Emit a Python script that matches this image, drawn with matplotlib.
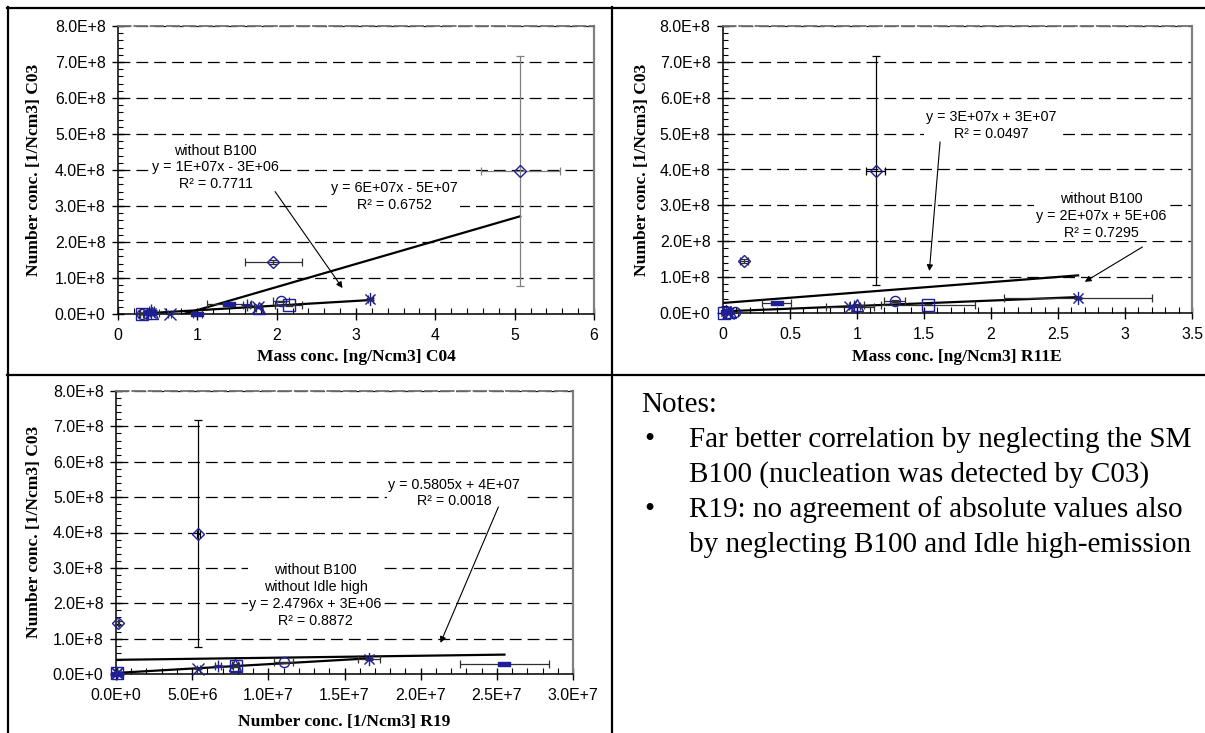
import numpy as np
import matplotlib
matplotlib.use("Agg")
import matplotlib.pyplot as plt
from matplotlib.path import Path
from matplotlib.lines import Line2D
from matplotlib.ticker import MultipleLocator, FuncFormatter

W, H = 1205, 733

# ---------------- data ----------------
# C03 number concentration [1/Ncm3] vs. C04 mass concentration [ng/Ncm3]
c04_series = ["B100", "B100", "P1", "P2", "P3", "P4", "P5", "P6", "Idle high",
              "Idle low", "P5", "P3", "P2", "P4", "P1", "P6", "Idle low"]
c04_x = [5.07, 1.96, 3.18, 2.05, 2.15, 1.78, 1.76, 1.62, 1.40,
         1.00, 0.65, 0.30, 0.30, 0.43, 0.42, 0.42, 0.40]
c04_xerr = [0.50, 0.36, 0.03, 0.10, 0.17, 0.04, 0.04, 0.05, 0.28,
            0.06, 0.02, 0.02, 0.03, 0.03, 0.04, 0.03, 0.12]
c04_y = [3.97e8, 1.45e8, 4.2e7, 3.5e7, 2.4e7, 1.8e7, 2.0e7, 2.4e7, 2.7e7,
         0.0, 0.0, 1.0e6, 1.0e6, 2.0e6, 3.0e6, 1.0e7, 3.0e6]
c04_yerr = [3.2e8, 6e6, 3e6, 2e6, 2e6, 2e6, 1e6, 2e6, 2e6,
            0, 0, 0, 0, 0, 0, 2e6, 0]

# C03 number concentration vs. R11E mass concentration [ng/Ncm3]
r11e_series = ["B100", "B100", "P1", "P2", "P3", "P4", "P5", "P6", "Idle high",
               "Idle low", "P3", "P2", "P4", "P5", "P1"]
r11e_x = [1.14, 0.16, 2.65, 1.28, 1.53, 1.00, 0.95, 0.98, 0.40,
          0.03, 0.01, 0.09, 0.05, 0.04, 0.02]
r11e_xerr = [0.07, 0.03, 0.55, 0.08, 0.35, 0.05, 0.18, 0.04, 0.11,
             0.02, 0.01, 0.02, 0.02, 0.02, 0.02]
r11e_y = [3.97e8, 1.45e8, 4.2e7, 3.3e7, 2.3e7, 2.2e7, 1.8e7, 2.0e7, 2.7e7,
          2.0e6, 1.0e6, 2.0e6, 2.0e6, 1.0e6, 5.0e6]
r11e_yerr = [3.2e8, 6e6, 3e6, 2e6, 2e6, 2e6, 1e6, 2e6, 2e6,
             0, 0, 0, 0, 0, 0]

# C03 number concentration vs. R19 number concentration [1/Ncm3]
r19_series = ["B100", "B100", "P1", "P2", "P3", "P4", "P5", "P6", "Idle high",
              "Idle low", "P3", "P5", "P1"]
r19_x = [5.4e6, 1.5e5, 1.66e7, 1.10e7, 7.9e6, 7.8e6, 5.4e6, 6.7e6, 2.55e7,
         5e4, 5e4, 5e4, 5e4]
r19_xerr = [1e5, 5e4, 7e5, 6e5, 2e5, 2e5, 1e5, 2e5, 2.9e6,
            0, 0, 0, 0]
r19_y = [3.97e8, 1.45e8, 4.2e7, 3.3e7, 2.3e7, 2.6e7, 1.5e7, 2.3e7, 2.7e7,
         1.0e6, 2.0e6, 3.0e6, 4.0e6]
r19_yerr = [3.2e8, 6e6, 3e6, 2e6, 2e6, 2e6, 1e6, 2e6, 2e6,
            0, 0, 0, 0]

# linear trend lines: (slope, intercept) and coefficient of determination
c04_fit_all, c04_r2_all = (6.4e7, -5.3e7), 0.6752
c04_fit_wo, c04_r2_wo = (1.3e7, -2.6e6), 0.7711
r11e_fit_all, r11e_r2_all = (2.9e7, 2.8e7), 0.0497
r11e_fit_wo, r11e_r2_wo = (1.5e7, 4.6e6), 0.7295
r19_fit_all, r19_r2_all = (0.5805, 4.0e7), 0.0018
r19_fit_wo, r19_r2_wo = (2.4796, 3.0e6), 0.8872

notes = [
    ("Far better correlation by neglecting the SM",
     "B100 (nucleation was detected by C03)"),
    ("R19: no agreement of absolute values also",
     "by neglecting B100 and Idle high-emission"),
]

# ---------------- styling ----------------
SANS = "Liberation Sans"
SERIF = "Liberation Serif"
BLUE = "#1e1e96"

M, L, C = Path.MOVETO, Path.LINETO, Path.CLOSEPOLY
star_path = Path([(-1, -1), (1, 1), (-1, 1), (1, -1), (0, -1.3), (0, 1.3)],
                 [M, L, M, L, M, L])
dash_path = Path([(-1, -0.4), (1, -0.4), (1, 0.4), (-1, 0.4), (-1, -0.4)],
                 [M, L, L, L, C])

marker_style = {
    "B100": dict(marker="D", ms=6.2, mfc="none"),
    "P1": dict(marker=star_path, ms=9.5, mfc="none"),
    "P2": dict(marker="o", ms=7.3, mfc="none"),
    "P3": dict(marker="s", ms=8.4, mfc="none"),
    "P4": dict(marker="^", ms=8.6, mfc="none"),
    "P5": dict(marker="x", ms=8.8, mfc="none"),
    "P6": dict(marker="+", ms=8.8, mfc="none"),
    "Idle high": dict(marker=dash_path, ms=8.6, mfc=BLUE),
    "Idle low": dict(marker=dash_path, ms=8.6, mfc=BLUE),
}

fig = plt.figure(figsize=(W / 100, H / 100), dpi=100)


def px_axes(l, t, r, b):
    return fig.add_axes([l / W, 1 - b / H, (r - l) / W, (b - t) / H])


def sci_label(v, _pos=None):
    if v == 0:
        return "0.0E+0"
    e = int(np.floor(np.log10(abs(v))))
    return f"{v / 10 ** e:.1f}E+{e}"


def coef(v):
    return f"{abs(v):.0E}" if abs(v) >= 1000 else f"{abs(v):.4f}"


def equation(fit):
    m, b = fit
    sign = "+" if b >= 0 else "-"
    return f"y = {coef(m)}x {sign} {coef(b)}"


def setup(ax, xmax, xmajor, xminor, xfmt):
    ax.set_xlim(0, xmax)
    ax.set_ylim(0, 8e8)
    ax.yaxis.set_major_locator(MultipleLocator(1e8))
    ax.yaxis.set_minor_locator(MultipleLocator(2e7))
    ax.xaxis.set_major_locator(MultipleLocator(xmajor))
    ax.xaxis.set_minor_locator(MultipleLocator(xminor))
    ax.yaxis.set_major_formatter(FuncFormatter(sci_label))
    ax.xaxis.set_major_formatter(FuncFormatter(xfmt))
    ax.grid(axis="y", which="major", color="black", lw=0.9,
            linestyle=(0, (9.5, 4.8)), zorder=0)
    ax.set_axisbelow(True)
    for s in ("left", "bottom"):
        ax.spines[s].set_color("black")
        ax.spines[s].set_linewidth(1.1)
    ax.spines["right"].set_color("#808080")
    ax.spines["right"].set_linewidth(1.6)
    ax.spines["top"].set_color("#707070")
    ax.spines["top"].set_linewidth(1.3)
    ax.spines["top"].set_linestyle((0, (7, 2)))
    ax.tick_params(axis="y", which="major", direction="inout", length=8,
                   width=1, pad=5, labelsize=11.4)
    ax.tick_params(axis="y", which="minor", direction="in", length=3.5,
                   width=0.8)
    ax.tick_params(axis="x", which="major", direction="inout", length=9,
                   width=1, pad=5.5, labelsize=11.4)
    ax.tick_params(axis="x", which="minor", direction="in", length=4,
                   width=0.8)
    for lab in ax.get_xticklabels() + ax.get_yticklabels():
        lab.set_family(SANS)


def draw_points(ax, series, xs, ys, xerr, yerr, big_err_color):
    for s, x, y, dx, dy in zip(series, xs, ys, xerr, yerr):
        ecol = big_err_color if dy > 1e8 else "#303030"
        ax.errorbar([x], [y], xerr=[dx], yerr=[dy], fmt="none", ecolor=ecol,
                    elinewidth=0.9, capsize=2.6, capthick=0.9, zorder=3,
                    clip_on=False)
    for s, x, y in zip(series, xs, ys):
        st = marker_style[s]
        ax.plot([x], [y], linestyle="none", marker=st["marker"],
                markersize=st["ms"], markerfacecolor=st["mfc"],
                markeredgecolor=BLUE, markeredgewidth=1.0, zorder=4,
                clip_on=False)


def trend(ax, fit, xs):
    m, b = fit
    xx = np.array([min(xs), max(xs)])
    ax.plot(xx, m * xx + b, color="black", lw=1.6, zorder=2)


def label(ax, x, y, text):
    ax.text(x, y, text, ha="center", va="center", family=SANS, fontsize=10.3,
            linespacing=1.25, zorder=5,
            bbox=dict(facecolor="white", edgecolor="none", pad=1.0))


def arrow(ax, start, end):
    ax.annotate("", xy=end, xytext=start, zorder=6,
                arrowprops=dict(arrowstyle="-|>", color="black", lw=0.8,
                                mutation_scale=9, shrinkA=0, shrinkB=0))


def subset(series, xs, drop):
    return [x for s, x in zip(series, xs) if s not in drop]


# ---------- panel 1: C04 ----------
ax1 = px_axes(118, 26, 594, 314)
setup(ax1, 6, 1, 0.2, lambda v, p: f"{v:g}")
trend(ax1, c04_fit_all, c04_x)
trend(ax1, c04_fit_wo, subset(c04_series, c04_x, {"B100"}))
draw_points(ax1, c04_series, c04_x, c04_y, c04_xerr, c04_yerr, "#808080")
label(ax1, 1.23, 4.07e8,
      f"without B100\n{equation(c04_fit_wo)}\nR² = {c04_r2_wo:.4f}")
label(ax1, 3.49, 3.27e8, f"{equation(c04_fit_all)}\nR² = {c04_r2_all:.4f}")
arrow(ax1, (1.98, 3.40e8), (2.83, 0.72e8))

# ---------- panel 2: R11E ----------
ax2 = px_axes(723, 26, 1192, 313)
setup(ax2, 3.5, 0.5, 0.1, lambda v, p: f"{v:g}")
trend(ax2, r11e_fit_all, r11e_x)
trend(ax2, r11e_fit_wo, subset(r11e_series, r11e_x, {"B100"}))
draw_points(ax2, r11e_series, r11e_x, r11e_y, r11e_xerr, r11e_yerr, "#000000")
label(ax2, 2.0, 5.22e8, f"{equation(r11e_fit_all)}\nR² = {r11e_r2_all:.4f}")
label(ax2, 2.82, 2.70e8,
      f"without B100\n{equation(r11e_fit_wo)}\nR² = {r11e_r2_wo:.4f}")
arrow(ax2, (1.62, 4.77e8), (1.54, 1.17e8))
arrow(ax2, (3.13, 1.84e8), (2.70, 0.87e8))

# ---------- panel 3: R19 ----------
ax3 = px_axes(116, 391, 573, 674)
setup(ax3, 3e7, 5e6, 1e6, sci_label)
trend(ax3, r19_fit_all, r19_x)
trend(ax3, r19_fit_wo, subset(r19_series, r19_x, {"B100", "Idle high"}))
draw_points(ax3, r19_series, r19_x, r19_y, r19_xerr, r19_yerr, "#000000")
label(ax3, 2.22e7, 5.12e8, f"{equation(r19_fit_all)}\nR² = {r19_r2_all:.4f}")
label(ax3, 1.31e7, 2.22e8,
      f"without B100\nwithout Idle high\n{equation(r19_fit_wo)}\n"
      f"R² = {r19_r2_wo:.4f}")
arrow(ax3, (2.51e7, 4.72e8), (2.13e7, 0.88e8))

# ---------- axis titles ----------
title_kw = dict(family=SERIF, fontweight="bold", fontsize=12.6,
                ha="center", va="center")
for (xc, yc), txt in [((356, 357), "Mass conc. [ng/Ncm3] C04"),
                      ((957, 357), "Mass conc. [ng/Ncm3] R11E"),
                      ((344, 722), "Number conc. [1/Ncm3] R19")]:
    fig.text(xc / W, 1 - yc / H, txt, **title_kw)
for (xc, yc) in [(34, 170), (642, 170), (34, 532)]:
    fig.text(xc / W, 1 - yc / H, "Number conc. [1/Ncm3] C03", rotation=90,
             **title_kw)

# ---------- table frame ----------
def hline(y, x0, x1):
    fig.add_artist(Line2D([x0 / W, x1 / W], [1 - y / H, 1 - y / H],
                          color="black", lw=1.6))


def vline(x, y0, y1):
    fig.add_artist(Line2D([x / W, x / W], [1 - y0 / H, 1 - y1 / H],
                          color="black", lw=1.6))


hline(8, 7, W)
hline(375, 7, W)
vline(8, 7, H)
vline(612, 7, H)

# ---------- notes ----------
note_kw = dict(family=SERIF, fontsize=21, va="center", ha="left")
fig.text(641 / W, 1 - 405 / H, "Notes:", **note_kw)
y = 440
for first, second in notes:
    fig.text(644 / W, 1 - y / H, "•", **note_kw)
    fig.text(689 / W, 1 - y / H, first, **note_kw)
    fig.text(689 / W, 1 - (y + 35) / H, second, **note_kw)
    y += 70

fig.savefig("out.png", dpi=100)
